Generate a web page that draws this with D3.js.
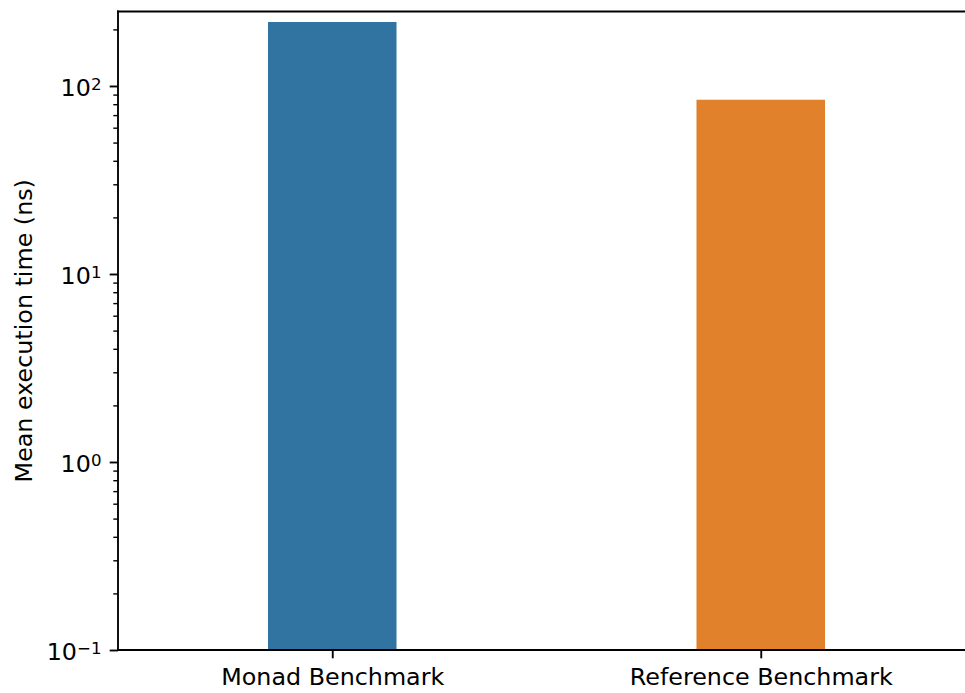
<!DOCTYPE html>
<html>
<head>
<meta charset="utf-8">
<script src="https://cdn.jsdelivr.net/npm/d3@7"></script>
<style>
  body { margin: 0; background: #fff; }
  svg { display: block; }
  svg text { font-family: "DejaVu Sans", sans-serif; }
</style>
</head>
<body>
<div id="chart"></div>
<script>
// Data
const categories = ['Monad Benchmark', 'Reference Benchmark'];
const meanTimes = [219, 84.5];
const barColors = ['#3274a1', '#e1812c'];
const majorTicks = [0.1, 1, 10, 100];
const majorExponents = ['\u22121', '0', '1', '2'];

const width = 965, height = 693;
const plot = { left: 118, right: 975, top: 11.5, bottom: 650 };
const fontSize = 23.8;
const stroke = 1.87;

const svg = d3.select('#chart').append('svg')
    .attr('width', width)
    .attr('height', height)
    .style('overflow', 'hidden');

// Scales
const x = d3.scalePoint()
    .domain(categories)
    .range([plot.left, plot.right])
    .padding(0.5);
const barWidth = x.step() * 0.3;

const y = d3.scaleLog()
    .domain([0.1, 249])
    .range([plot.bottom, plot.top]);

// Bars
svg.append('g').selectAll('rect')
    .data(categories)
    .join('rect')
    .attr('x', d => x(d) - barWidth / 2)
    .attr('width', barWidth)
    .attr('y', (d, i) => y(meanTimes[i]))
    .attr('height', (d, i) => y(0.1) - y(meanTimes[i]))
    .attr('fill', (d, i) => barColors[i]);

// Minor y ticks: 2..9 per decade
const minorTicks = [];
for (let e = -1; e <= 2; e++) {
    for (let m = 2; m <= 9; m++) {
        const v = m * Math.pow(10, e);
        if (v <= 249) minorTicks.push(v);
    }
}

const yMinor = svg.append('g')
    .attr('transform', `translate(${plot.left},0)`)
    .call(d3.axisLeft(y).tickValues(minorTicks).tickSize(4.7).tickFormat(''));
yMinor.select('.domain').remove();
yMinor.selectAll('.tick line').attr('stroke', '#000').attr('stroke-width', 1.4);

const yMajor = svg.append('g')
    .attr('transform', `translate(${plot.left},0)`)
    .call(d3.axisLeft(y).tickValues(majorTicks).tickSize(8.3).tickFormat(''));
yMajor.select('.domain').remove();
yMajor.selectAll('.tick line').attr('stroke', '#000').attr('stroke-width', stroke);

// Major tick labels as 10^n
yMajor.selectAll('.tick text').remove();
yMajor.selectAll('.tick').each(function(d, i) {
    const t = d3.select(this).append('text')
        .attr('x', -16.5)
        .attr('y', 9.7)
        .attr('fill', '#000')
        .attr('text-anchor', 'end')
        .style('font-size', fontSize + 'px');
    t.append('tspan').text('10');
    t.append('tspan')
        .attr('dy', -6.6)
        .style('font-size', (fontSize * 0.7) + 'px')
        .text(majorExponents[i]);
});

// X axis
const xAxis = svg.append('g')
    .attr('transform', `translate(0,${plot.bottom})`)
    .call(d3.axisBottom(x).tickSize(8.3).tickPadding(8.2));
xAxis.select('.domain').remove();
xAxis.selectAll('.tick line').attr('stroke', '#000').attr('stroke-width', stroke);
xAxis.selectAll('.tick text')
    .attr('fill', '#000')
    .attr('dy', null)
    .attr('y', 35)
    .style('font-size', fontSize + 'px');

// Spines
const spines = svg.append('g')
    .attr('fill', 'none')
    .attr('stroke', '#000')
    .attr('stroke-width', stroke)
    .attr('stroke-linecap', 'square');
spines.append('line').attr('x1', plot.left).attr('x2', plot.right).attr('y1', plot.top).attr('y2', plot.top);
spines.append('line').attr('x1', plot.left).attr('x2', plot.right).attr('y1', plot.bottom).attr('y2', plot.bottom);
spines.append('line').attr('x1', plot.left).attr('x2', plot.left).attr('y1', plot.top).attr('y2', plot.bottom);

// Y label
svg.append('text')
    .attr('transform', `translate(32,${(plot.top + plot.bottom) / 2}) rotate(-90)`)
    .attr('text-anchor', 'middle')
    .style('font-size', fontSize + 'px')
    .text('Mean execution time (ns)');
</script>
</body>
</html>
